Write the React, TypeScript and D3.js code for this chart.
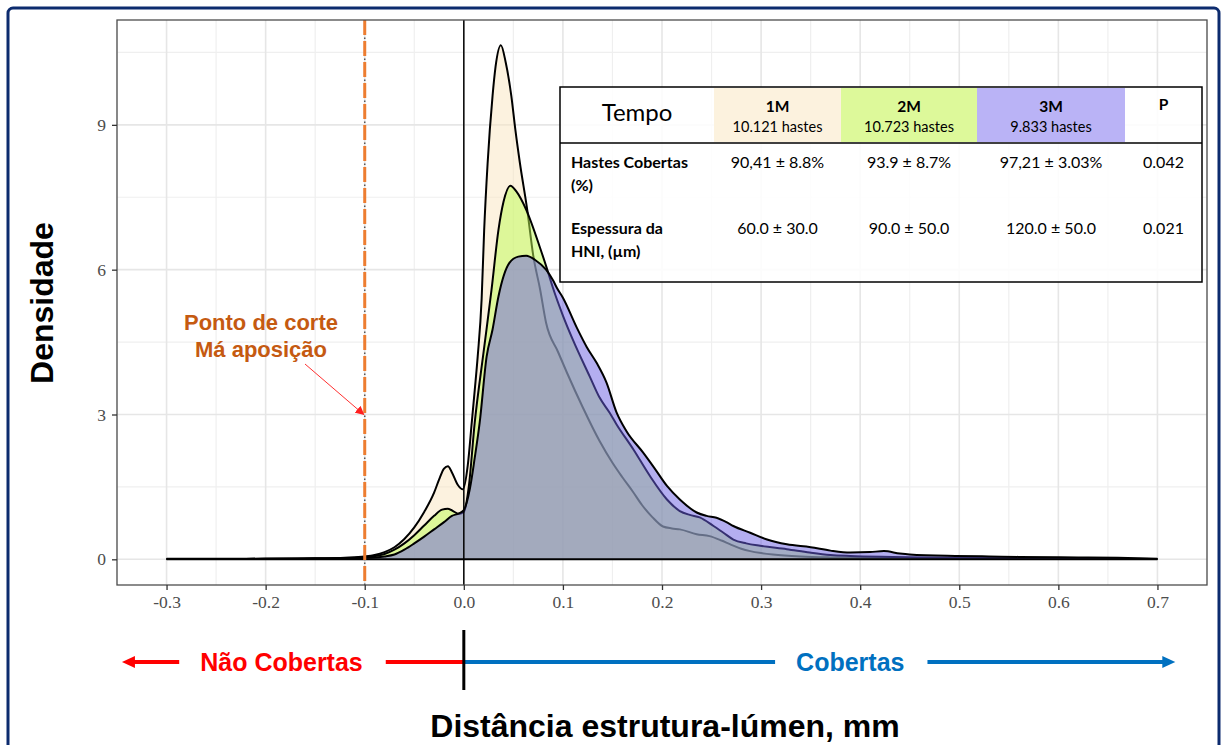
import React, { useRef, useEffect } from "react";
import * as d3 from "d3";

// density curves: [distance mm, density]
const dens1M: [number, number][] = [
  [-0.3, 0.01], [-0.2, 0.01], [-0.15, 0.02], [-0.12, 0.035], [-0.1, 0.06], [-0.09, 0.09],
  [-0.08, 0.15], [-0.07, 0.25], [-0.06, 0.42], [-0.05, 0.66], [-0.04, 0.98], [-0.03, 1.38],
  [-0.025, 1.65], [-0.02, 1.88], [-0.016, 1.93], [-0.012, 1.8], [-0.006, 1.54], [-0.001, 1.45],
  [0.004, 1.95], [0.008, 2.83], [0.011, 3.5], [0.014, 4.2], [0.018, 5.4], [0.0205, 6.8],
  [0.024, 8.2], [0.029, 9.6], [0.032, 10.2], [0.0374, 10.65], [0.0424, 10.28], [0.048, 9.59],
  [0.052, 8.9], [0.0566, 8.21], [0.064, 7.24], [0.07, 6.3], [0.077, 5.59], [0.083, 4.9],
  [0.095, 4.3], [0.104, 3.87], [0.12, 3.15], [0.137, 2.45], [0.15, 2.0], [0.16, 1.7],
  [0.171, 1.39], [0.18, 1.12], [0.19, 0.88], [0.201, 0.68], [0.21, 0.64], [0.218, 0.62],
  [0.235, 0.52], [0.248, 0.48], [0.26, 0.39], [0.269, 0.31], [0.28, 0.22], [0.289, 0.17],
  [0.3, 0.13], [0.312, 0.1], [0.34, 0.06], [0.37, 0.04], [0.4, 0.03], [0.45, 0.02],
  [0.5, 0.015], [0.6, 0.01], [0.7, 0.005],
];

const dens2M: [number, number][] = [
  [-0.3, 0.005], [-0.2, 0.01], [-0.15, 0.015], [-0.12, 0.025], [-0.1, 0.04], [-0.09, 0.065],
  [-0.08, 0.11], [-0.07, 0.2], [-0.06, 0.33], [-0.05, 0.5], [-0.04, 0.7], [-0.03, 0.9],
  [-0.022, 1.03], [-0.016, 1.05], [-0.01, 0.99], [-0.005, 0.94], [0.0, 0.98], [0.005, 1.5],
  [0.011, 2.83], [0.02, 4.3], [0.028, 5.59], [0.035, 6.83], [0.04, 7.4], [0.047, 7.74],
  [0.053, 7.62], [0.063, 7.24], [0.077, 6.45], [0.085, 5.95], [0.09, 5.62], [0.1, 5.05],
  [0.11, 4.55], [0.127, 3.79], [0.137, 3.35], [0.147, 3.04], [0.154, 2.8], [0.171, 2.28],
  [0.188, 1.72], [0.205, 1.24], [0.218, 1.0], [0.228, 0.92], [0.238, 0.87], [0.252, 0.69],
  [0.262, 0.55], [0.272, 0.41], [0.285, 0.33], [0.299, 0.28], [0.326, 0.21], [0.349, 0.14],
  [0.37, 0.09], [0.39, 0.07], [0.433, 0.05], [0.5, 0.03], [0.6, 0.015], [0.7, 0.005],
];

const dens3M: [number, number][] = [
  [-0.3, 0.005], [-0.2, 0.01], [-0.15, 0.015], [-0.12, 0.02], [-0.1, 0.03], [-0.09, 0.04],
  [-0.08, 0.06], [-0.07, 0.1], [-0.06, 0.2], [-0.05, 0.33], [-0.04, 0.47], [-0.03, 0.62],
  [-0.02, 0.77], [-0.012, 0.9], [-0.005, 0.95], [0.0, 1.02], [0.006, 1.45], [0.011, 2.1],
  [0.016, 2.83], [0.023, 4.2], [0.029, 4.76], [0.035, 5.45], [0.046, 6.14], [0.055, 6.27],
  [0.063, 6.29], [0.072, 6.2], [0.083, 6.0], [0.09, 5.78], [0.094, 5.62], [0.1, 5.42],
  [0.114, 4.8], [0.124, 4.4], [0.134, 4.07], [0.144, 3.66], [0.154, 3.05], [0.164, 2.66],
  [0.181, 2.21], [0.192, 1.9], [0.205, 1.52], [0.218, 1.24], [0.235, 0.97], [0.245, 0.9],
  [0.255, 0.86], [0.265, 0.77], [0.272, 0.69], [0.289, 0.55], [0.306, 0.41], [0.326, 0.31],
  [0.35, 0.25], [0.37, 0.18], [0.39, 0.14], [0.41, 0.15], [0.424, 0.17], [0.44, 0.12],
  [0.45, 0.1], [0.496, 0.07], [0.53, 0.06], [0.56, 0.05], [0.62, 0.04], [0.66, 0.03],
  [0.7, 0.01],
];

const seriesNames = ["1M", "2M", "3M"];
const seriesFill = ["#F9E5BF", "#BEFC53", "#695DE1"];
const headerFill = ["#FCF2DE", "#DDF99A", "#BAB3F6"];
const seriesCount = ["10.121 hastes", "10.723 hastes", "9.833 hastes"];

const xTicks = [-0.3, -0.2, -0.1, 0.0, 0.1, 0.2, 0.3, 0.4, 0.5, 0.6, 0.7];
const yTicks = [0, 3, 6, 9];
const cutPoint = -0.1;

const rowLabels = [["Hastes Cobertas", "(%)"], ["Espessura da", "HNI, (µm)"]];
const rowValues = [
  ["90,41 ± 8.8%", "93.9 ± 8.7%", "97,21 ± 3.03%"],
  ["60.0 ± 30.0", "90.0 ± 50.0", "120.0 ± 50.0"],
];
const rowP = ["0.042", "0.021"];

const W = 1223;
const H = 745;

const App = () => {
  const plot = useRef<SVGSVGElement>(null);

  useEffect(() => {
    const svg = d3.select(plot.current);
    svg.selectAll("*").remove();

    const left = 117, right = 1207, top = 20, bottom = 585;
    const x = d3.scaleLinear().domain([-0.35, 0.75]).range([left, right]);
    const y = d3.scaleLinear().domain([-0.532, 11.172]).range([bottom, top]);

    // outer frame
    svg.append("rect")
      .attr("x", 8).attr("y", 8).attr("width", 1211).attr("height", 770)
      .attr("rx", 5).attr("fill", "white")
      .attr("stroke", "#0C2B6E").attr("stroke-width", 3);

    // grid
    const g = svg.append("g");
    const minorX = d3.range(-0.35, 0.76, 0.05).filter(v => !xTicks.some(t => Math.abs(t - v) < 1e-6));
    const minorY = [1.5, 4.5, 7.5, 10.5];
    g.append("g").selectAll("line").data(minorX).join("line")
      .attr("x1", d => x(d)).attr("x2", d => x(d)).attr("y1", top).attr("y2", bottom)
      .attr("stroke", "#EFEFEF").attr("stroke-width", 1.2);
    g.append("g").selectAll("line").data(minorY).join("line")
      .attr("y1", d => y(d)).attr("y2", d => y(d)).attr("x1", left).attr("x2", right)
      .attr("stroke", "#EFEFEF").attr("stroke-width", 1.2);
    g.append("g").selectAll("line").data(xTicks).join("line")
      .attr("x1", d => x(d)).attr("x2", d => x(d)).attr("y1", top).attr("y2", bottom)
      .attr("stroke", "#E6E6E6").attr("stroke-width", 1.6);
    g.append("g").selectAll("line").data(yTicks).join("line")
      .attr("y1", d => y(d)).attr("y2", d => y(d)).attr("x1", left).attr("x2", right)
      .attr("stroke", "#E6E6E6").attr("stroke-width", 1.6);

    // densities, each fill then its upper outline, so later fills tint earlier lines
    const area = d3.area<[number, number]>()
      .x(d => x(d[0])).y0(y(0)).y1(d => y(d[1]))
      .curve(d3.curveMonotoneX);
    const line = d3.line<[number, number]>()
      .x(d => x(d[0])).y(d => y(d[1]))
      .curve(d3.curveMonotoneX);
    [dens1M, dens2M, dens3M].forEach((data, i) => {
      svg.append("path")
        .attr("d", area(data))
        .attr("fill", seriesFill[i])
        .attr("fill-opacity", 0.5);
      svg.append("path")
        .attr("d", line(data))
        .attr("fill", "none")
        .attr("stroke", "black")
        .attr("stroke-width", 2);
    });

    // baseline
    svg.append("line")
      .attr("x1", x(-0.3)).attr("x2", x(0.7)).attr("y1", y(0)).attr("y2", y(0))
      .attr("stroke", "black").attr("stroke-width", 2);

    // vertical line at 0
    svg.append("line")
      .attr("x1", x(0)).attr("x2", x(0)).attr("y1", top).attr("y2", bottom)
      .attr("stroke", "black").attr("stroke-width", 1.5);

    // cut point line
    svg.append("line")
      .attr("x1", x(cutPoint)).attr("x2", x(cutPoint)).attr("y1", top).attr("y2", bottom)
      .attr("stroke", "#ED7D31").attr("stroke-width", 3).attr("stroke-dasharray", "15,6");
    svg.append("line")
      .attr("x1", x(cutPoint)).attr("x2", x(cutPoint)).attr("y1", top).attr("y2", bottom)
      .attr("stroke", "#555").attr("stroke-width", 1.5)
      .attr("stroke-dasharray", "1.5,19.5").attr("stroke-dashoffset", -17.5);

    // panel border
    svg.append("rect")
      .attr("x", left).attr("y", top).attr("width", right - left).attr("height", bottom - top)
      .attr("fill", "none").attr("stroke", "#4D4D4D").attr("stroke-width", 1.3);

    // axes
    const xAxis = d3.axisBottom(x).tickValues(xTicks)
      .tickFormat(d => (+d).toFixed(1)).tickSize(5).tickPadding(6);
    svg.append("g")
      .attr("transform", `translate(0, ${bottom})`)
      .call(xAxis)
      .call(s => s.select(".domain").remove())
      .call(s => s.selectAll(".tick line").attr("stroke", "#333").attr("stroke-width", 1.3))
      .call(s => s.selectAll(".tick text")
        .attr("font-family", "'Liberation Serif', 'DejaVu Serif', serif")
        .attr("font-size", 17.5).attr("fill", "#4D4D4D"));
    const yAxis = d3.axisLeft(y).tickValues(yTicks).tickFormat(d3.format("d")).tickSize(5).tickPadding(6);
    svg.append("g")
      .attr("transform", `translate(${left}, 0)`)
      .call(yAxis)
      .call(s => s.select(".domain").remove())
      .call(s => s.selectAll(".tick line").attr("stroke", "#333").attr("stroke-width", 1.3))
      .call(s => s.selectAll(".tick text")
        .attr("font-family", "'Liberation Serif', 'DejaVu Serif', serif")
        .attr("font-size", 17.5).attr("fill", "#4D4D4D"));

    const sans = "'Liberation Sans', Arial, sans-serif";
    svg.append("text")
      .attr("transform", `translate(53, 303) rotate(-90)`)
      .attr("text-anchor", "middle")
      .attr("font-family", sans).attr("font-weight", "bold").attr("font-size", 32)
      .text("Densidade");
    svg.append("text")
      .attr("x", 665).attr("y", 737)
      .attr("text-anchor", "middle")
      .attr("font-family", sans).attr("font-weight", "bold").attr("font-size", 32)
      .text("Distância estrutura-lúmen, mm");

    // cut point annotation
    const ann = svg.append("text")
      .attr("text-anchor", "middle")
      .attr("font-family", sans).attr("font-weight", "bold").attr("font-size", 22)
      .attr("fill", "#C55A11");
    ann.append("tspan").attr("x", 261).attr("y", 330).text("Ponto de corte");
    ann.append("tspan").attr("x", 261).attr("y", 357).text("Má aposição");
    svg.append("defs").append("marker")
      .attr("id", "redhead").attr("viewBox", "0 0 10 10").attr("refX", 9).attr("refY", 5)
      .attr("markerWidth", 9).attr("markerHeight", 9).attr("markerUnits", "userSpaceOnUse")
      .attr("orient", "auto")
      .append("path").attr("d", "M0,0 L10,5 L0,10 Z").attr("fill", "#FF2020");
    svg.append("line")
      .attr("x1", 305).attr("y1", 364).attr("x2", x(cutPoint) - 1).attr("y2", y(3))
      .attr("stroke", "#FF3030").attr("stroke-width", 1)
      .attr("marker-end", "url(#redhead)");

    // covered / not covered arrows
    const ay = 662;
    const arrowText = (label: string, cx: number, color: string) => {
      const t = svg.append("text")
        .attr("x", cx).attr("y", ay + 9)
        .attr("text-anchor", "middle")
        .attr("font-family", sans).attr("font-weight", "bold").attr("font-size", 25)
        .attr("fill", color).text(label);
      const w = (t.node() as SVGTextElement).getComputedTextLength();
      return [cx - w / 2 - 21, cx + w / 2 + 23];
    };
    const [r1, r2] = arrowText("Não Cobertas", x(-0.184), "#FF0000");
    const [b1, b2] = arrowText("Cobertas", x(0.39), "#0070C0");
    const leftTip = x(-0.345), rightTip = x(0.718);
    svg.append("line").attr("x1", leftTip + 10).attr("x2", r1).attr("y1", ay).attr("y2", ay)
      .attr("stroke", "#FF0000").attr("stroke-width", 4);
    svg.append("line").attr("x1", r2).attr("x2", x(0)).attr("y1", ay).attr("y2", ay)
      .attr("stroke", "#FF0000").attr("stroke-width", 4);
    svg.append("line").attr("x1", x(0)).attr("x2", b1).attr("y1", ay).attr("y2", ay)
      .attr("stroke", "#0070C0").attr("stroke-width", 4);
    svg.append("line").attr("x1", b2).attr("x2", rightTip - 10).attr("y1", ay).attr("y2", ay)
      .attr("stroke", "#0070C0").attr("stroke-width", 4);
    svg.append("path")
      .attr("d", `M${leftTip},${ay} L${leftTip + 13},${ay - 6} L${leftTip + 13},${ay + 6} Z`)
      .attr("fill", "#FF0000");
    svg.append("path")
      .attr("d", `M${rightTip},${ay} L${rightTip - 13},${ay - 6} L${rightTip - 13},${ay + 6} Z`)
      .attr("fill", "#0070C0");
    svg.append("line")
      .attr("x1", x(0)).attr("x2", x(0)).attr("y1", 630).attr("y2", 690)
      .attr("stroke", "black").attr("stroke-width", 3);

    // summary table
    const cols = [560, 714, 841, 977, 1125, 1202];
    const tTop = 87, tHead = 143, tBot = 282;
    const tf = "Lato, 'Open Sans', sans-serif";
    const tbl = svg.append("g");
    tbl.append("rect")
      .attr("x", cols[0]).attr("y", tTop).attr("width", cols[5] - cols[0]).attr("height", tBot - tTop)
      .attr("fill", "white").attr("fill-opacity", 0.85);
    seriesNames.forEach((name, i) => {
      const cx = (cols[i + 1] + cols[i + 2]) / 2;
      tbl.append("rect")
        .attr("x", cols[i + 1]).attr("y", tTop + 1).attr("width", cols[i + 2] - cols[i + 1]).attr("height", tHead - tTop - 2)
        .attr("fill", headerFill[i]);
      tbl.append("text").attr("x", cx).attr("y", 112).attr("text-anchor", "middle")
        .attr("font-family", tf).attr("font-weight", "bold").attr("font-size", 15.5).text(name);
      tbl.append("text").attr("x", cx).attr("y", 132).attr("text-anchor", "middle")
        .attr("font-family", tf).attr("font-size", 14.5).text(seriesCount[i]);
    });
    tbl.append("text").attr("x", (cols[0] + cols[1]) / 2).attr("y", 121).attr("text-anchor", "middle")
      .attr("font-family", tf).attr("font-size", 24).text("Tempo");
    tbl.append("text").attr("x", (cols[4] + cols[5]) / 2).attr("y", 110).attr("text-anchor", "middle")
      .attr("font-family", tf).attr("font-weight", "bold").attr("font-size", 15.5).text("P");
    const rowY = [168, 234];
    rowLabels.forEach((lab, r) => {
      lab.forEach((s, k) => {
        tbl.append("text").attr("x", 571).attr("y", rowY[r] + k * 23)
          .attr("font-family", tf).attr("font-weight", "bold").attr("font-size", 16).text(s);
      });
      rowValues[r].forEach((v, i) => {
        tbl.append("text").attr("x", (cols[i + 1] + cols[i + 2]) / 2).attr("y", rowY[r])
          .attr("text-anchor", "middle").attr("font-family", tf).attr("font-size", 16).text(v);
      });
      tbl.append("text").attr("x", (cols[4] + cols[5]) / 2).attr("y", rowY[r])
        .attr("text-anchor", "middle").attr("font-family", tf).attr("font-size", 16).text(rowP[r]);
    });
    tbl.append("rect")
      .attr("x", cols[0]).attr("y", tTop).attr("width", cols[5] - cols[0]).attr("height", tBot - tTop)
      .attr("fill", "none").attr("stroke", "black").attr("stroke-width", 1.5);
    tbl.append("line").attr("x1", cols[0]).attr("x2", cols[5]).attr("y1", tHead).attr("y2", tHead)
      .attr("stroke", "black").attr("stroke-width", 1.5);
  }, []);

  return (
    <>
      <style>{"body{margin:0}"}</style>
      <svg ref={plot} width={W} height={H} style={{ display: "block" }} />
    </>
  );
};

export default App;
